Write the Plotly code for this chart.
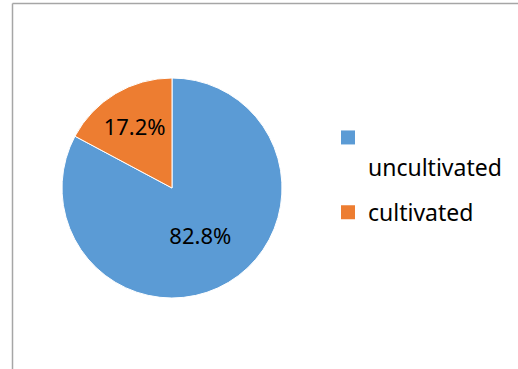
import plotly.graph_objects as go

labels = ["uncultivated", "cultivated"]
legend_names = ["&nbsp;<br>uncultivated", "cultivated"]
values = [82.8, 17.2]
colors = ["#5B9BD5", "#ED7D31"]

W, H = 518, 369

fig = go.Figure()
fig.add_trace(go.Pie(
    labels=labels,
    values=values,
    sort=False,
    direction="clockwise",
    rotation=0,
    marker=dict(colors=colors, line=dict(color="white", width=1)),
    textinfo="percent",
    texttemplate="%{percent:.1%}",
    textposition="inside",
    insidetextorientation="horizontal",
    textfont=dict(family="Noto Sans", size=22, color="black"),
    domain=dict(x=[62 / W, 282 / W], y=[1 - 298 / H, 1 - 78 / H]),
    hoverinfo="label+percent",
    showlegend=False,
))

# legend entries (one per category, same colours as the slices)
for name, col in zip(legend_names, colors):
    fig.add_trace(go.Scatter(
        x=[None], y=[None], mode="markers", name=name,
        legendgroup=name,
        marker=dict(symbol="square", size=14, color=col),
        hoverinfo="skip",
    ))

fig.update_layout(
    width=W, height=H,
    margin=dict(l=0, r=0, t=0, b=0),
    paper_bgcolor="white",
    plot_bgcolor="white",
    font=dict(family="Noto Sans", size=23, color="black"),
    showlegend=True,
    xaxis=dict(visible=False),
    yaxis=dict(visible=False),
    legend=dict(
        x=328 / W, y=1 - 116 / H, xanchor="left", yanchor="top",
        valign="top",
        traceorder="grouped",
        tracegroupgap=12,
        font=dict(family="Noto Sans", size=23, color="black"),
        bgcolor="rgba(0,0,0,0)", borderwidth=0,
        itemwidth=30,
    ),
    shapes=[
        dict(type="line", xref="paper", yref="paper",
             x0=12.5 / W, x1=12.5 / W, y0=0, y1=1 - 3.5 / H,
             line=dict(color="#a6a6a6", width=1.5)),
        dict(type="line", xref="paper", yref="paper",
             x0=12.5 / W, x1=1, y0=1 - 3.5 / H, y1=1 - 3.5 / H,
             line=dict(color="#a6a6a6", width=1.5)),
    ],
)

fig.write_html("out.html")
